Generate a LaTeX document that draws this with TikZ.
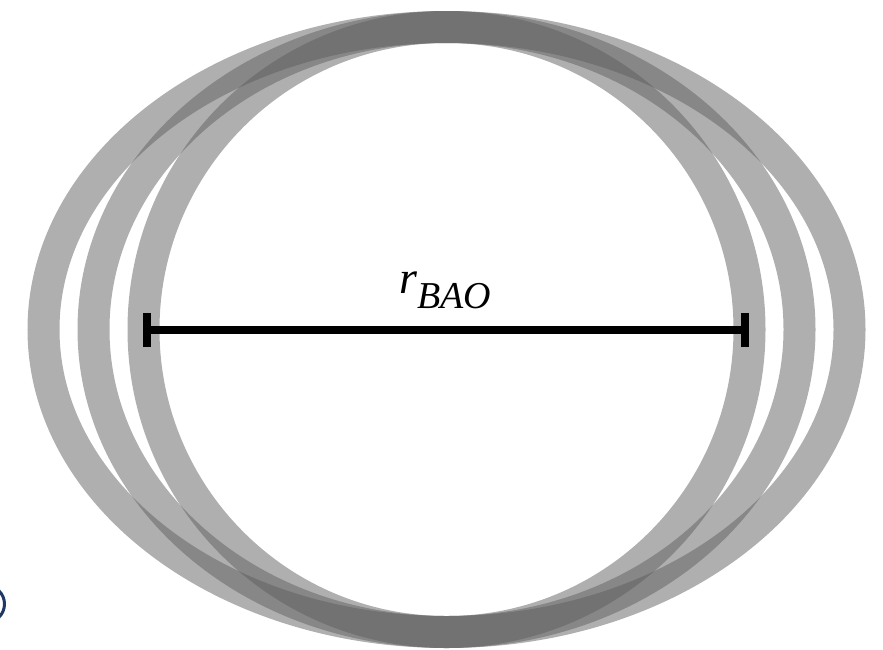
\documentclass[tikz,border=0pt]{standalone}
\usepackage{fontspec}
\setmainfont{LiberationSerif}[Extension=.ttf, UprightFont=*-Regular, ItalicFont=*-Italic, BoldFont=*-Bold]
\usepackage{tikz}
\usetikzlibrary{arrows.meta}
\definecolor{ringgray}{RGB}{95,95,95}
\definecolor{markernavy}{RGB}{31,56,100}

\tikzset{
  baoring/.style={draw=ringgray, draw opacity=0.5, line width=32pt},
  ruler/.style={line width=8pt, draw=black, {Bar[width=34pt]}-{Bar[width=34pt]}}
}

\begin{document}
\begin{tikzpicture}[x=1pt, y=-1pt]
  \useasboundingbox (0,0) rectangle (883,649);
  \clip (0,0) rectangle (883,649);

  % Shells
  \coordinate (centre) at (446.5,329.5);
  \draw[baoring] (centre) ellipse [x radius=303pt, y radius=302.5pt];
  \draw[baoring] (centre) ellipse [x radius=353pt, y radius=302.5pt];
  \draw[baoring] (centre) ellipse [x radius=403pt, y radius=302.5pt];

  % Scale bar
  \coordinate (lefttip) at (143,330);
  \coordinate (righttip) at (749,330);
  \draw[ruler] (lefttip) -- (righttip);
  \node[anchor=base west, inner sep=0pt] (rbao) at (399,293)
    {\itshape\fontsize{46}{46}\selectfont r\fontsize{38}{38}\selectfont\raisebox{-15pt}{BAO}};

  % Cut-off marker
  \draw[line width=3pt, draw=markernavy] (-14,604) circle [radius=18.5pt];
\end{tikzpicture}
\end{document}
